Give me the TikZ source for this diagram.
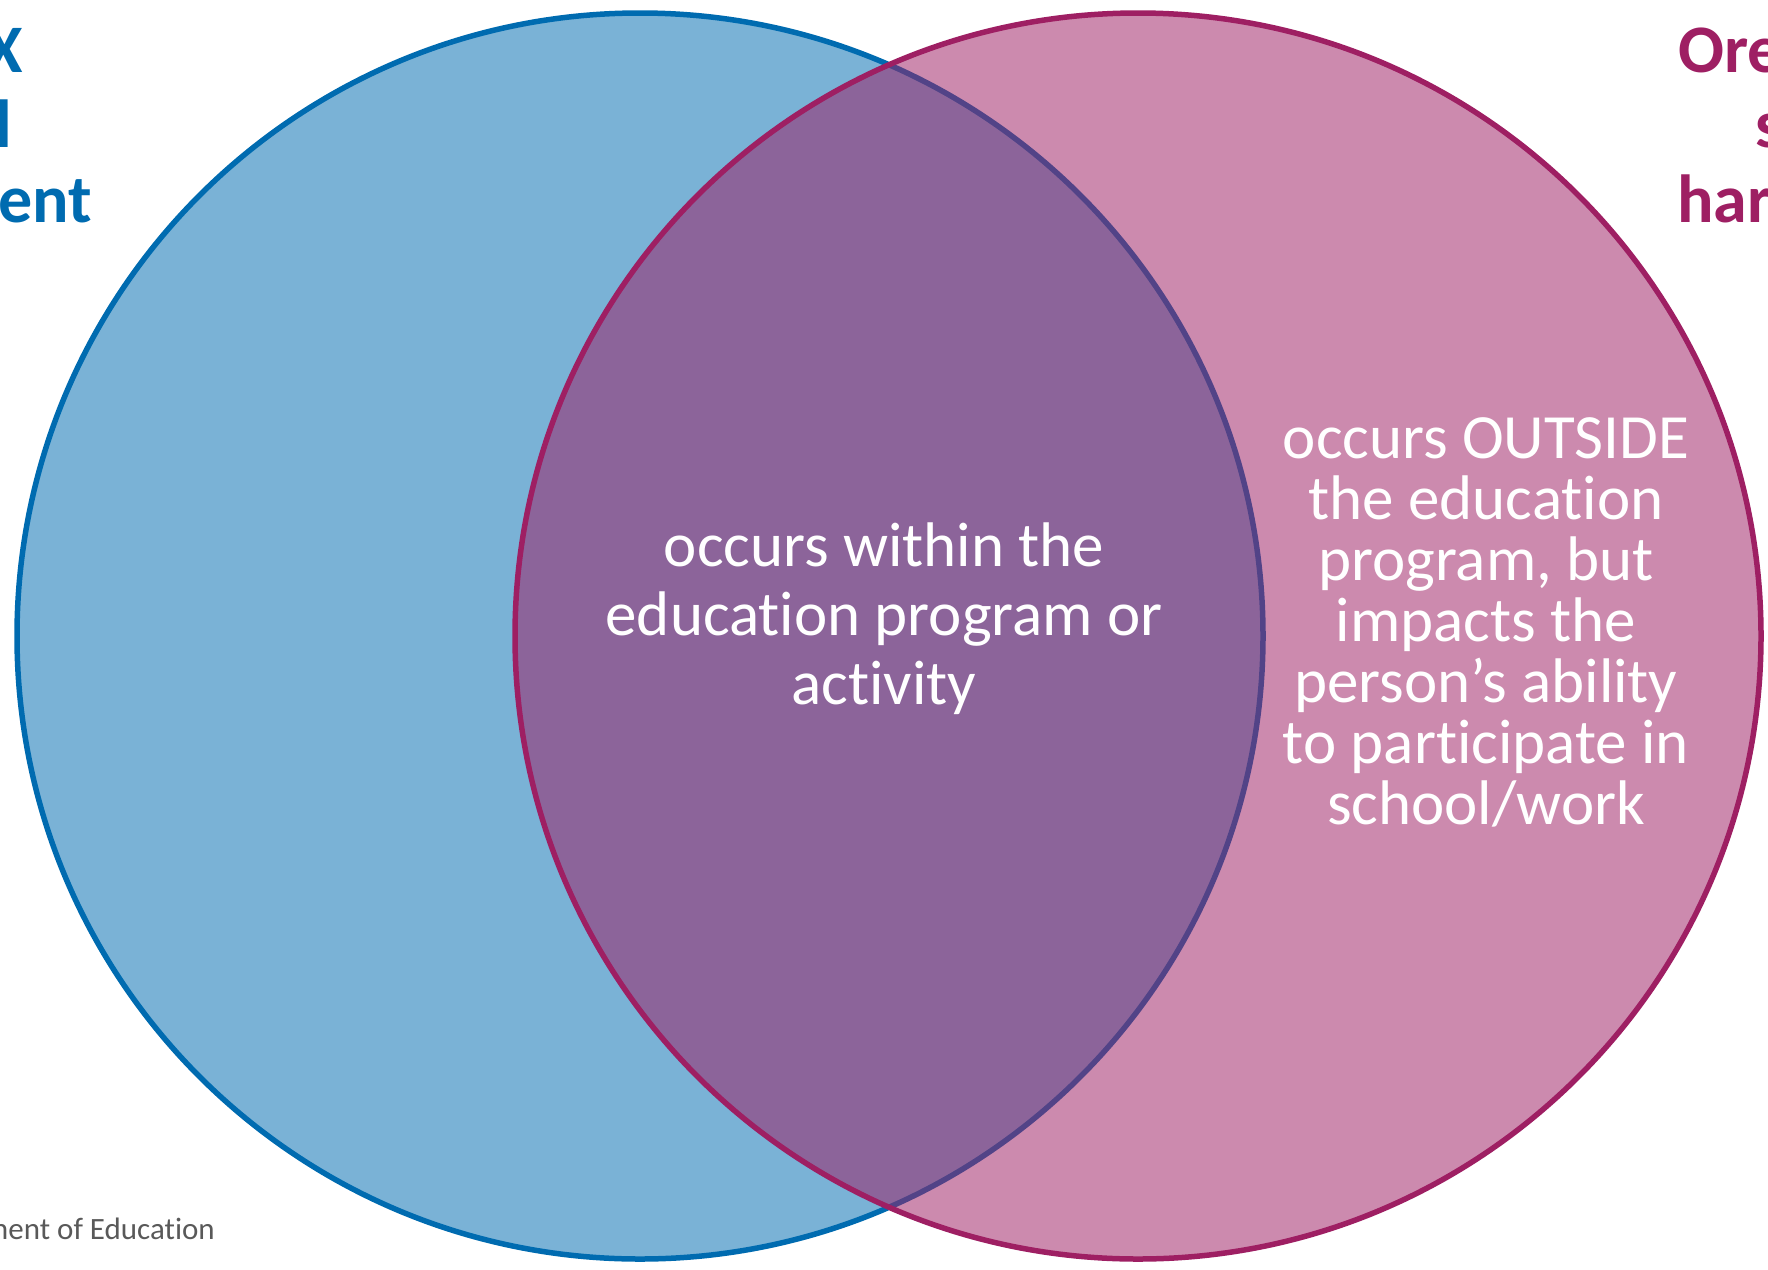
\documentclass[tikz,border=0pt]{standalone}
\usepackage{fontspec}
\setmainfont{Carlito}[Ligatures=NoCommon]
\definecolor{blueC}{RGB}{0,107,176}
\definecolor{magC}{RGB}{158,31,99}
\definecolor{grayT}{RGB}{89,89,89}
\begin{document}
\begin{tikzpicture}[x=1pt,y=-1pt,
  venn/.style={circle, inner sep=0pt, outer sep=0pt, minimum size=1246pt, line width=5.5pt, fill opacity=0.52, draw opacity=1},
  body/.style={text=white, align=center, inner sep=0pt, font=\fontsize{63}{69}\selectfont},
  head/.style={inner sep=0pt, font=\fontsize{68}{75}\selectfont\bfseries}]
\useasboundingbox (0,0) rectangle (1768,1269);
\clip (0,0) rectangle (1768,1269);
\node[venn, draw=blueC, fill=blueC] (left) at (640,636) {};
\node[venn, draw=magC, fill=magC] (right) at (1138,636) {};
\node[body] (mid) at (884,619) {occurs within the\\education program or\\activity};
\node[body, font=\fontsize{63}{61}\selectfont] (outside) at (1486,622) {occurs OUTSIDE\\the education\\program, but\\impacts the\\person’s ability\\to participate in\\school/work};
\node[head, text=blueC, anchor=base east] (l1) at (23,72) {X};
\node[head, text=blueC, anchor=base east] (l2) at (12,147) {l};
\node[head, text=blueC, anchor=base east] (l3) at (92,222) {ent};
\node[head, text=magC, anchor=base west] (r1) at (1678,72) {Ore};
\node[head, text=magC, anchor=base west] (r2) at (1755,147) {s};
\node[head, text=magC, anchor=base west] (r3) at (1677,222) {har};
\node[text=grayT, anchor=base east, inner sep=0pt, font=\fontsize{31}{37}\selectfont] (foot) at (215,1239) {ment of Education};
\end{tikzpicture}
\end{document}
